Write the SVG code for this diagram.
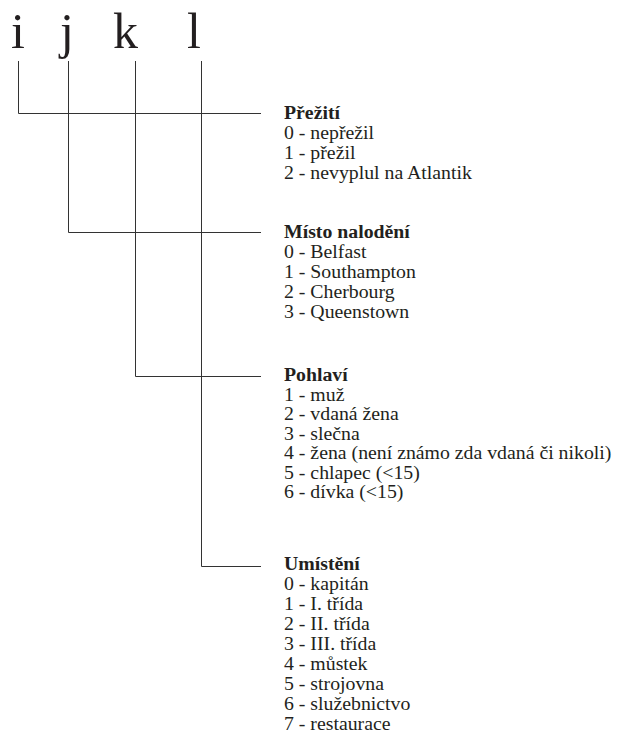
<svg xmlns="http://www.w3.org/2000/svg" width="617" height="747" viewBox="0 0 617 747">
<style>
.big{font-family:"Liberation Serif","Times New Roman",serif;font-size:50px;fill:#231f20}
.t{font-family:"Liberation Serif","Times New Roman",serif;font-size:19.8px;fill:#231f20}
.h{font-weight:bold}
.c{stroke:#333;stroke-width:1;fill:none}
</style>
<rect width="617" height="747" fill="#fff"/>
<g id="letters">
<text class="big" x="11" y="48">i</text>
<text class="big" x="60" y="48">j</text>
<text class="big" x="113" y="48">k</text>
<text class="big" x="187" y="48">l</text>
</g>
<g id="connectors">
<path class="c" d="M18.5,61V113.5H261"/>
<path class="c" d="M68.5,61V232.5H261"/>
<path class="c" d="M135.5,61V376.5H261"/>
<path class="c" d="M201.5,61V566.5H261"/>
</g>
<g id="prezit">
<text class="t h" x="284" y="119">Přežití</text>
<text class="t" x="284" y="139">0 - nepřežil</text>
<text class="t" x="284" y="159">1 - přežil</text>
<text class="t" x="284" y="179">2 - nevyplul na Atlantik</text>
</g>
<g id="misto">
<text class="t h" x="284" y="238">Místo nalodění</text>
<text class="t" x="284" y="258">0 - Belfast</text>
<text class="t" x="284" y="278">1 - Southampton</text>
<text class="t" x="284" y="298">2 - Cherbourg</text>
<text class="t" x="284" y="318">3 - Queenstown</text>
</g>
<g id="pohlavi">
<text class="t h" x="284" y="381">Pohlaví</text>
<text class="t" x="284" y="400.5">1 - muž</text>
<text class="t" x="284" y="420">2 - vdaná žena</text>
<text class="t" x="284" y="439.5">3 - slečna</text>
<text class="t" x="284" y="459">4 - žena (není známo zda vdaná či nikoli)</text>
<text class="t" x="284" y="478.5">5 - chlapec (&lt;15)</text>
<text class="t" x="284" y="498">6 - dívka (&lt;15)</text>
</g>
<g id="umisteni">
<text class="t h" x="284" y="570">Umístění</text>
<text class="t" x="284" y="590">0 - kapitán</text>
<text class="t" x="284" y="610">1 - I. třída</text>
<text class="t" x="284" y="630">2 - II. třída</text>
<text class="t" x="284" y="650">3 - III. třída</text>
<text class="t" x="284" y="670">4 - můstek</text>
<text class="t" x="284" y="690">5 - strojovna</text>
<text class="t" x="284" y="710">6 - služebnictvo</text>
<text class="t" x="284" y="730">7 - restaurace</text>
</g>
</svg>
